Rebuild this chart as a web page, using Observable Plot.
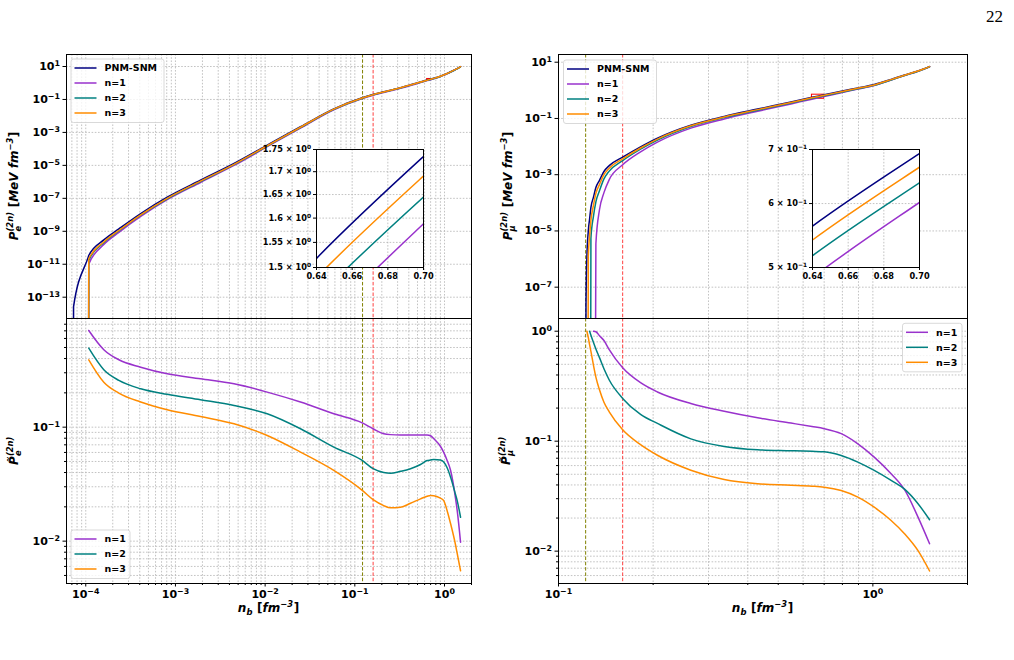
<!DOCTYPE html>
<html>
<head>
<meta charset="utf-8">
<script src="https://cdn.jsdelivr.net/npm/d3@7"></script>
<script src="https://cdn.jsdelivr.net/npm/@observablehq/plot@0.6"></script>
<style>
  html, body { margin: 0; padding: 0; background: #fff; }
  #fig { position: relative; width: 1014px; height: 660px; overflow: hidden; background: #fff; }
  #fig svg { position: absolute; left: 0; top: 0; }
</style>
</head>
<body>
<div id="fig"></div>
<script>
// ---------- electron pressure, baryon density grid (fm^-3) ----------
const nbE = [7.30e-5, 7.31e-5, 1.07e-4, 1.08e-4, 1.59e-4, 2.34e-4, 4.1e-4, 8.1e-4, 1.9e-3, 4.5e-3,
  0.01055, 0.0248, 0.0583, 0.121, 0.16, 0.21, 0.25, 0.323, 0.418, 0.54,
  0.64, 0.70, 0.76, 0.90, 0.98, 1.07, 1.17, 1.33, 1.385, 1.51];

// P_e (MeV fm^-3); 0 means no electrons yet (falls below the log axis)
const Pe_PNM = [0, 2.7e-14, 2.9e-11, 3.4e-11, 3.0e-10, 1.4e-9, 1.2e-8, 1.17e-7, 1.25e-6, 1.3e-5,
  1.7e-4, 2.2e-3, 0.027, 0.126, 0.20, 0.29, 0.368, 0.523, 0.773, 1.16,
  1.518, 1.734, 1.96, 2.62, 3.15, 3.85, 4.8, 6.7, 7.5, 9.8];
const Pe_n1 = [null, null, 0, 1.0e-11, 1.57e-10, 8.54e-10, 7.97e-9, 8.26e-8, 9.18e-7, 9.88e-6,
  1.355e-4, 1.835e-3, 0.02346, 0.1123, 0.1806, 0.2646, 0.3364, 0.4783, 0.7069, 1.0608,
  1.386, 1.588, 1.805, 2.442, 2.961, 3.654, 4.6, 6.543, 7.36, 9.704];
const Pe_n2 = [null, null, 0, 1.72e-11, 2.04e-10, 1.04e-9, 9.4e-9, 9.43e-8, 1.033e-6, 1.099e-5,
  1.477e-4, 1.987e-3, 0.0252, 0.1196, 0.1914, 0.2784, 0.3535, 0.5016, 0.7396, 1.1055,
  1.4406, 1.6447, 1.858, 2.485, 2.994, 3.681, 4.625, 6.529, 7.33, 9.641];
const Pe_n3 = [null, null, 0, 2.07e-11, 2.26e-10, 1.12e-9, 1.0e-8, 1.004e-7, 1.095e-6, 1.161e-5,
  1.556e-4, 2.067e-3, 0.02587, 0.1225, 0.1954, 0.2841, 0.3608, 0.5126, 0.7564, 1.1327,
  1.4804, 1.6903, 1.911, 2.558, 3.078, 3.779, 4.732, 6.638, 7.442, 9.746];

// relative deviation from PNM-SNM, electrons
const Re_n1 = [null, null, null, 0.705, 0.478, 0.39, 0.336, 0.294, 0.266, 0.24,
  0.203, 0.166, 0.131, 0.109, 0.0968, 0.0875, 0.086, 0.0855, 0.0855, 0.0855,
  0.0855, 0.084, 0.079, 0.068, 0.060, 0.051, 0.0417, 0.0235, 0.0186, 0.0098];
const Re_n2 = [null, null, null, 0.493, 0.319, 0.257, 0.217, 0.194, 0.174, 0.155,
  0.131, 0.0968, 0.0668, 0.051, 0.0432, 0.040, 0.0395, 0.041, 0.0432, 0.047,
  0.051, 0.0515, 0.052, 0.0515, 0.0495, 0.044, 0.0364, 0.0255, 0.0227, 0.0162];
const Re_n3 = [null, null, null, 0.39, 0.248, 0.199, 0.166, 0.142, 0.124, 0.107,
  0.0845, 0.0604, 0.0417, 0.0279, 0.0231, 0.0205, 0.0196, 0.0198, 0.0215, 0.0235,
  0.0248, 0.0252, 0.0250, 0.0238, 0.0227, 0.0185, 0.0142, 0.0092, 0.0078, 0.0055];

// ---------- muon pressure ----------
const nbMu = [0.1219, 0.1223, 0.1231, 0.1244, 0.1256, 0.1268, 0.1292, 0.1315, 0.1350, 0.1395,
  0.1450, 0.160, 0.1824, 0.2064, 0.2636, 0.3366, 0.430, 0.549, 0.64, 0.70,
  0.793, 0.896, 1.01, 1.143, 1.261, 1.392, 1.515];
const Pmu_PNM = [0, 2.1e-8, 1.15e-6, 1.0e-5, 2.7e-5, 6.9e-5, 1.6e-4, 3.5e-4, 6.3e-4, 1.3e-3,
  2.1e-3, 4.2e-3, 9.8e-3, 0.02, 0.058, 0.118, 0.215, 0.385, 0.5627, 0.692,
  0.93, 1.22, 1.6, 2.45, 3.5, 4.9, 7.0];
const Pmu_n1 = [null, null, null, null, null, null, 0, 3.5e-6, 5.67e-5, 2.3e-4,
  6.72e-4, 2.247e-3, 6.47e-3, 0.0144, 0.04524, 0.0959, 0.18, 0.3288, 0.486, 0.602,
  0.8212, 1.1046, 1.4854, 2.326, 3.373, 4.80, 6.918];
const Pmu_n2 = [null, null, null, null, 0, 5.5e-6, 3.36e-5, 1.085e-4, 2.68e-4, 7.09e-4,
  1.344e-3, 3.171e-3, 8.085e-3, 0.0171, 0.0519, 0.1074, 0.1971, 0.3535, 0.5172, 0.6366,
  0.8611, 1.1413, 1.513, 2.342, 3.372, 4.768, 6.865];
const Pmu_n3 = [null, null, 0, 1.25e-6, 6.75e-6, 2.38e-5, 8.2e-5, 2.16e-4, 4.45e-4, 1.0e-3,
  1.71e-3, 3.67e-3, 8.89e-3, 0.01851, 0.05484, 0.1127, 0.2062, 0.3697, 0.5408, 0.6656,
  0.8969, 1.182, 1.560, 2.403, 3.450, 4.850, 6.954];

const Rmu_n1 = [null, null, null, null, null, null, 1.0, 0.99, 0.91, 0.823,
  0.68, 0.465, 0.34, 0.28, 0.22, 0.187, 0.163, 0.146, 0.136, 0.130,
  0.117, 0.0946, 0.0716, 0.0505, 0.0362, 0.0204, 0.01167];
const Rmu_n2 = [null, null, null, null, 1.0, 0.92, 0.79, 0.69, 0.575, 0.455,
  0.36, 0.245, 0.175, 0.145, 0.105, 0.0895, 0.0835, 0.0818, 0.0808, 0.080,
  0.0741, 0.0645, 0.0542, 0.044, 0.0366, 0.027, 0.0193];
const Rmu_n3 = [null, null, 1.0, 0.875, 0.75, 0.655, 0.49, 0.383, 0.293, 0.226,
  0.185, 0.127, 0.093, 0.0745, 0.0545, 0.0448, 0.041, 0.0398, 0.039, 0.0382,
  0.0356, 0.031, 0.0251, 0.019, 0.0144, 0.0101, 0.0066];

// reference densities (dashed verticals)
const nbCrustCore = 0.122;
const nbSat = 0.16;

// zoomed windows
const zoomE = { x: [0.64, 0.70], y: [1.5, 1.75] };
const zoomMu = { x: [0.64, 0.70], y: [0.5, 0.7] };

const seriesNames = ["PNM-SNM", "n=1", "n=2", "n=3"];
const seriesColors = ["#000080", "#9932cc", "#008080", "#ff8c00"];

// ---------- helpers ----------
const FLOOR = 1e-30; // zero pressure sits below any log axis, drawn as a drop to the edge
function table(xs, named) {
  const rows = [];
  for (const [name, vals] of named)
    vals.forEach((v, i) => { if (v != null) rows.push({ nb: xs[i], v: v > 0 ? v : FLOOR, series: name }); });
  return rows;
}
const tabPe = table(nbE, [["PNM-SNM", Pe_PNM], ["n=1", Pe_n1], ["n=2", Pe_n2], ["n=3", Pe_n3]]);
const tabRe = table(nbE, [["n=1", Re_n1], ["n=2", Re_n2], ["n=3", Re_n3]]);
const tabPmu = table(nbMu, [["PNM-SNM", Pmu_PNM], ["n=1", Pmu_n1], ["n=2", Pmu_n2], ["n=3", Pmu_n3]]);
const tabRmu = table(nbMu, [["n=1", Rmu_n1], ["n=2", Rmu_n2], ["n=3", Rmu_n3]]);

const W = 1014, H = 660;
const frames = {
  eTop: { left: 66, right: 471, top: 54, bottom: 318 },
  eBot: { left: 66, right: 471, top: 318, bottom: 583 },
  muTop: { left: 558, right: 967, top: 54, bottom: 318 },
  muBot: { left: 558, right: 967, top: 318, bottom: 583 },
  eIns: { left: 316, right: 423, top: 149, bottom: 267 },
  muIns: { left: 812, right: 919, top: 149, bottom: 267 }
};
const box = f => ({ width: W, height: H, marginLeft: f.left, marginRight: W - f.right, marginTop: f.top, marginBottom: H - f.bottom });
const baseStyle = { fontFamily: "'DejaVu Sans', sans-serif", fontSize: "11px", fontWeight: "bold", background: "transparent", overflow: "visible", color: "#000" };

// scale domains
const xE = [6.1e-5, 2.0], xMu = [0.1, 2.0];
const yPe = [5.1e-15, 53.5], yPmu = [7.7e-9, 18.8];
const yRe = [0.00425, 0.898], yRmu = [0.00508, 1.305];

function logTicks(domain, subs) {
  const out = [];
  const lo = Math.floor(Math.log10(domain[0])), hi = Math.ceil(Math.log10(domain[1]));
  for (let e = lo; e <= hi; e++) for (const s of subs) {
    const v = s * Math.pow(10, e);
    if (v >= domain[0] * 0.9999 && v <= domain[1] * 1.0001) out.push(v);
  }
  return out;
}
const majE = logTicks(xE, [1]), minE = logTicks(xE, [2, 3, 4, 5, 6, 7, 8, 9]);
const majMu = logTicks(xMu, [1]), minMu = logTicks(xMu, [2, 3, 4, 5, 6, 7, 8, 9]);
const yTickPe = [1e1, 1e-1, 1e-3, 1e-5, 1e-7, 1e-9, 1e-11, 1e-13];
const yTickPmu = [1e1, 1e-1, 1e-3, 1e-5, 1e-7];
const majRe = logTicks(yRe, [1]), minRe = logTicks(yRe, [2, 3, 4, 5, 6, 7, 8, 9]);
const majRmu = logTicks(yRmu, [1]), minRmu = logTicks(yRmu, [2, 3, 4, 5, 6, 7, 8, 9]);

const pow10 = d => `10^${Math.round(Math.log10(d))}`;
const grid = { stroke: "#b4b4b4", strokeOpacity: 1, strokeWidth: 0.8, strokeDasharray: "1.6,1.6" };
const color = { domain: seriesNames, range: seriesColors };
const curve = { x: "nb", y: "v", z: "series", stroke: "series", strokeWidth: 1.5, curve: "monotone-x", clip: true };
const olive = { stroke: "#808000", strokeWidth: 1, strokeDasharray: "3.5,1.8" };
const red = { stroke: "#ff2020", strokeOpacity: 0.85, strokeWidth: 1, strokeDasharray: "3.5,1.8" };
// tick labels go through the text channel so every listed tick gets its label
const axisY = (ticks, fmt, extra = {}) => Plot.axisY(ticks, { tickSize: 3.5, tickPadding: 3, text: fmt, label: null, fontSize: 11, ...extra });
const axisX = (ticks, fmt, extra = {}) => Plot.axisX(ticks, { tickSize: 3.5, tickPadding: 3, text: fmt, label: null, fontSize: 11, ...extra });
const blank = () => "";
const zoomRect = z => Plot.rect([z], { x1: d => d.x[0], x2: d => d.x[1], y1: d => d.y[0], y2: d => d.y[1], fill: "none", stroke: "red", strokeWidth: 1 });

const fig = document.getElementById("fig");
const plots = [];

// electron pressure
plots.push(Plot.plot({
  ...box(frames.eTop), style: baseStyle, color,
  x: { type: "log", domain: xE, axis: null },
  y: { type: "log", domain: yPe, axis: null },
  marks: [
    Plot.gridX(majE.concat(minE), grid),
    Plot.gridY(yTickPe, grid),
    Plot.ruleX([nbCrustCore], olive),
    Plot.ruleX([nbSat], red),
    zoomRect(zoomE),
    Plot.line(tabPe, curve),
    Plot.frame({ stroke: "#000", strokeWidth: 1 }),
    axisY(yTickPe, pow10)
  ]
}));

// electron relative deviation
plots.push(Plot.plot({
  ...box(frames.eBot), style: baseStyle, color,
  x: { type: "log", domain: xE, axis: null },
  y: { type: "log", domain: yRe, axis: null },
  marks: [
    Plot.gridX(majE.concat(minE), grid),
    Plot.gridY(majRe.concat(minRe), grid),
    Plot.ruleX([nbCrustCore], olive),
    Plot.ruleX([nbSat], red),
    Plot.line(tabRe, curve),
    Plot.frame({ stroke: "#000", strokeWidth: 1 }),
    axisY(majRe, pow10),
    axisY(minRe, blank, { tickSize: 2 }),
    axisX(majE, pow10),
    axisX(minE, blank, { tickSize: 2 })
  ]
}));

// muon pressure
plots.push(Plot.plot({
  ...box(frames.muTop), style: baseStyle, color,
  x: { type: "log", domain: xMu, axis: null },
  y: { type: "log", domain: yPmu, axis: null },
  marks: [
    Plot.gridX(majMu.concat(minMu), grid),
    Plot.gridY(yTickPmu, grid),
    Plot.ruleX([nbCrustCore], olive),
    Plot.ruleX([nbSat], red),
    zoomRect(zoomMu),
    Plot.line(tabPmu, curve),
    Plot.frame({ stroke: "#000", strokeWidth: 1 }),
    axisY(yTickPmu, pow10)
  ]
}));

// muon relative deviation
plots.push(Plot.plot({
  ...box(frames.muBot), style: baseStyle, color,
  x: { type: "log", domain: xMu, axis: null },
  y: { type: "log", domain: yRmu, axis: null },
  marks: [
    Plot.gridX(majMu.concat(minMu), grid),
    Plot.gridY(majRmu.concat(minRmu), grid),
    Plot.ruleX([nbCrustCore], olive),
    Plot.ruleX([nbSat], red),
    Plot.line(tabRmu, curve),
    Plot.frame({ stroke: "#000", strokeWidth: 1 }),
    axisY(majRmu, pow10),
    axisY(minRmu, blank, { tickSize: 2 }),
    axisX(majMu, pow10),
    axisX(minMu, blank, { tickSize: 2 })
  ]
}));

// zoomed insets
function inset(f, z, tab, yTicks) {
  const e = Math.floor(Math.log10(z.y[0]));
  const mant = d => `${+(d / Math.pow(10, e)).toFixed(2)} × 10^${e}`;
  const xt = [0.64, 0.66, 0.68, 0.70];
  return Plot.plot({
    ...box(f), style: { ...baseStyle, fontSize: "8.2px" }, color,
    x: { domain: z.x, axis: null },
    y: { type: "log", domain: z.y, axis: null },
    marks: [
      Plot.frame({ fill: "#fff", stroke: "none" }),
      Plot.gridX(xt, grid),
      Plot.gridY(yTicks, grid),
      Plot.line(tab, curve),
      Plot.frame({ stroke: "#000", strokeWidth: 1 }),
      Plot.axisX(xt, { tickSize: 3, tickPadding: 2.5, text: d => d.toFixed(2), label: null, fontSize: 8.2 }),
      Plot.axisY(yTicks, { tickSize: 3, tickPadding: 2.5, text: mant, label: null, fontSize: 8.2 })
    ]
  });
}
plots.push(inset(frames.eIns, zoomE, tabPe, [1.5, 1.55, 1.6, 1.65, 1.7, 1.75]));
plots.push(inset(frames.muIns, zoomMu, tabPmu, [0.5, 0.6, 0.7]));

// power-of-ten labels get a raised exponent
function superscripts(svg) {
  svg.querySelectorAll("text").forEach(el => {
    const m = /^(.*)10\^(-?\d+)$/.exec(el.textContent);
    if (!m) return;
    el.textContent = "";
    el.appendChild(document.createTextNode(m[1] + "10"));
    const sup = document.createElementNS("http://www.w3.org/2000/svg", "tspan");
    sup.setAttribute("dy", "-0.45em");
    sup.setAttribute("font-size", "72%");
    sup.textContent = m[2].replace("-", "−");
    el.appendChild(sup);
  });
}
for (const p of plots) { fig.appendChild(p); superscripts(p); }

// ---------- legends, axis titles, page number ----------
const ov = d3.select(fig).append("svg")
  .attr("width", W).attr("height", H)
  .style("font-family", "'DejaVu Sans', sans-serif").style("font-weight", "bold");

function legend(f, dx, dy, names, bw) {
  const g = ov.append("g").attr("transform", `translate(${f.left + dx},${f.top + dy})`);
  const rowH = 15;
  g.append("rect").attr("width", bw).attr("height", names.length * rowH + 3.5)
    .attr("rx", 2.5).attr("fill", "#fff").attr("fill-opacity", 0.8)
    .attr("stroke", "#cfcfcf").attr("stroke-width", 0.8);
  names.forEach((n, i) => {
    const y = 9 + i * rowH;
    g.append("line").attr("x1", 3.5).attr("x2", 25.5).attr("y1", y).attr("y2", y)
      .attr("stroke", seriesColors[seriesNames.indexOf(n)]).attr("stroke-width", 1.5);
    g.append("text").attr("x", 33.5).attr("y", y + 3.4).attr("font-size", 9.5).text(n);
  });
}
legend(frames.eTop, 5, 5, seriesNames, 93);
legend(frames.muTop, 5.5, 6, seriesNames, 93);
legend(frames.eBot, 5, 212, seriesNames.slice(1), 59);
legend(frames.muBot, 344.5, 5.3, seriesNames.slice(1), 59.5);

function mathLabel({ x, y, rotate = 0, size = 12, parts }) {
  const g = ov.append("g").attr("transform", `translate(${x},${y}) rotate(${rotate})`);
  let cx = 0;
  const put = (txt, px, py, fs, italic) => {
    const t = g.append("text").attr("x", px).attr("y", py).attr("font-size", fs)
      .attr("font-style", italic ? "italic" : "normal").text(txt);
    return t.node().getComputedTextLength();
  };
  for (const p of parts) {
    if (p.sup != null || p.sub != null) {
      let w = 0;
      if (p.sup != null) w = Math.max(w, put(p.sup, cx, -0.42 * size, 0.7 * size, true));
      if (p.sub != null) w = Math.max(w, put(p.sub, cx, 0.24 * size, 0.7 * size, true));
      cx += w + 0.5;
    } else {
      cx += put(p.t, cx, 0, size, p.italic !== false);
    }
  }
  g.selectAll("text").attr("x", function () { return +this.getAttribute("x") - cx / 2; });
}
const unitsP = [{ t: "\u00a0[", italic: false }, { t: "MeV\u00a0fm" }, { sup: "−3" }, { t: "]", italic: false }];
mathLabel({ x: 18, y: (frames.eTop.top + frames.eTop.bottom) / 2, rotate: -90,
  parts: [{ t: "P" }, { sup: "(2n)", sub: "e" }, ...unitsP] });
mathLabel({ x: 512, y: (frames.muTop.top + frames.muTop.bottom) / 2, rotate: -90,
  parts: [{ t: "P" }, { sup: "(2n)", sub: "μ" }, ...unitsP] });
mathLabel({ x: 18, y: (frames.eBot.top + frames.eBot.bottom) / 2, rotate: -90,
  parts: [{ t: "P\u0303" }, { sup: "(2n)", sub: "e" }] });
mathLabel({ x: 510, y: (frames.muBot.top + frames.muBot.bottom) / 2, rotate: -90,
  parts: [{ t: "P\u0303" }, { sup: "(2n)", sub: "μ" }] });
const unitsN = [{ t: "n" }, { sub: "b" }, { t: "\u00a0[", italic: false }, { t: "fm" }, { sup: "−3" }, { t: "]", italic: false }];
mathLabel({ x: (frames.eBot.left + frames.eBot.right) / 2, y: 612, parts: unitsN });
mathLabel({ x: (frames.muBot.left + frames.muBot.right) / 2, y: 612, parts: unitsN });

ov.append("text").attr("x", 1003).attr("y", 22).attr("text-anchor", "end")
  .attr("font-family", "'Liberation Serif', serif").attr("font-weight", "normal")
  .attr("font-size", 17).text("22");
</script>
</body>
</html>
